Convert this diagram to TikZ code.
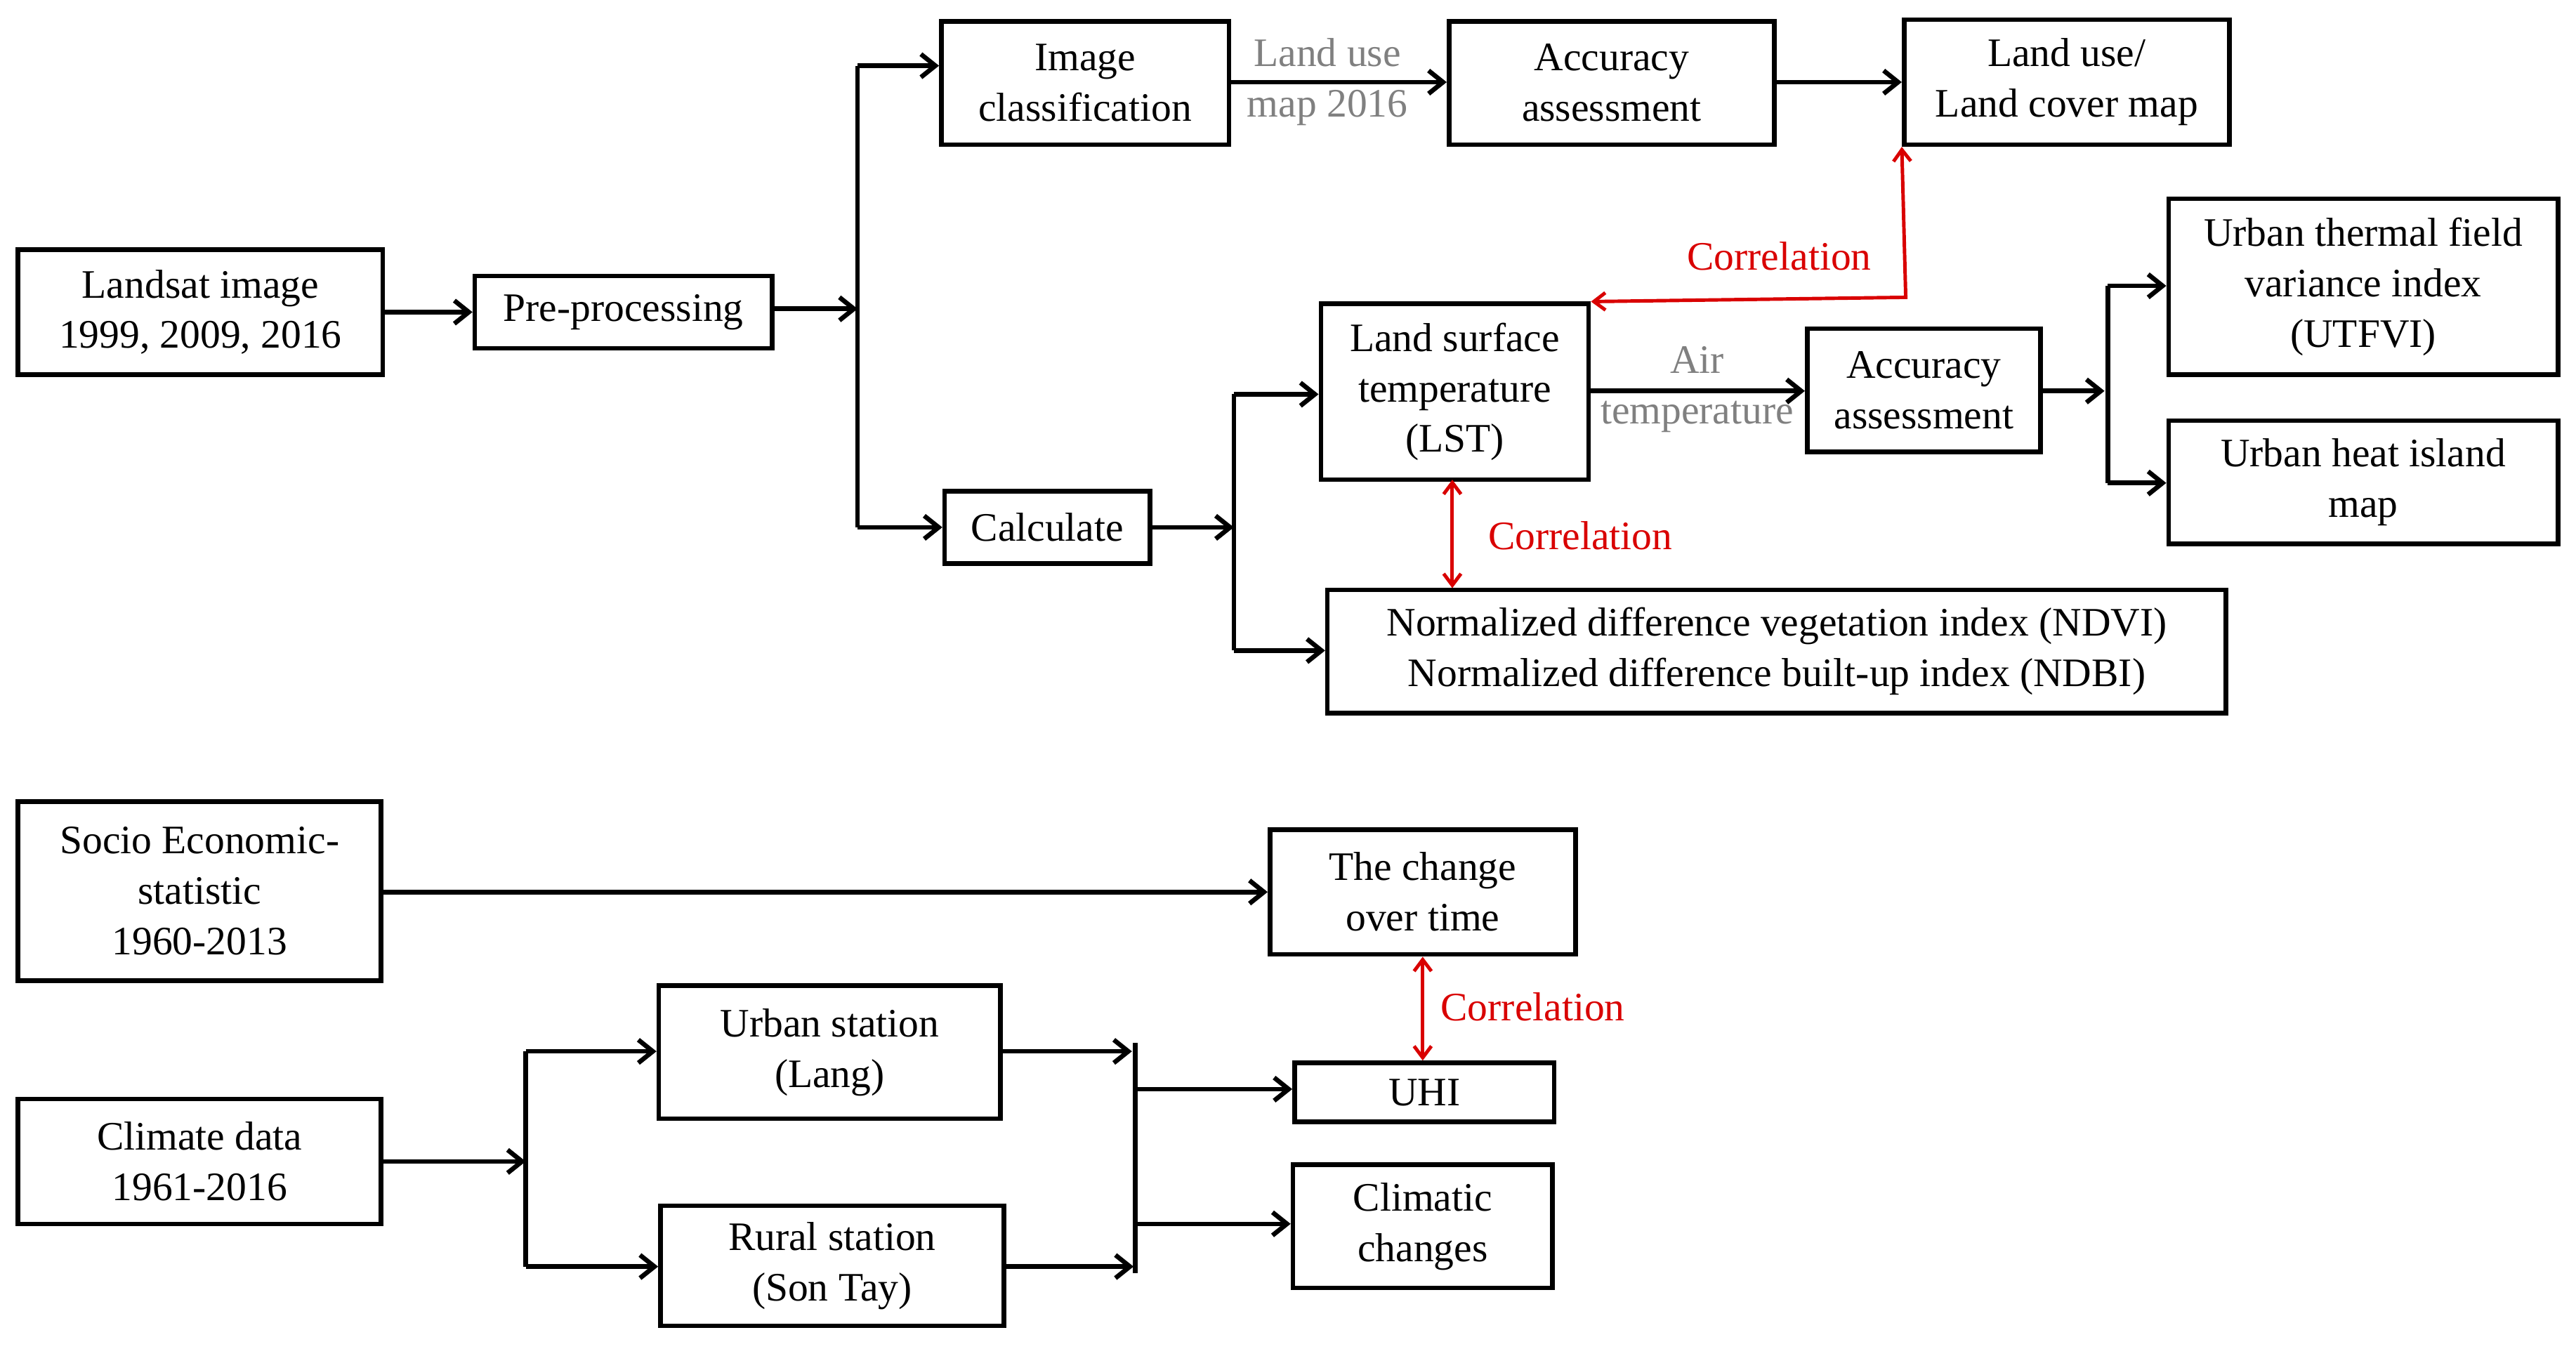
\documentclass[tikz,border=0pt]{standalone}
\usepackage{fontspec}
\setmainfont{Liberation Serif}
\usetikzlibrary{arrows.meta}
\begin{document}
\begin{tikzpicture}[x=0.02cm,y=-0.02cm,
  box/.style={draw,line width=1.6pt,align=center,inner sep=0pt,font=\fontsize{14}{17.5}\selectfont},
  arr/.style={line width=1.6pt,-{Straight Barb[length=5pt,width=8pt]}},
  ln/.style={line width=1.6pt},
  red2/.style={draw=red!85!black,line width=1.2pt,{Straight Barb[length=4pt,width=6pt]}-{Straight Barb[length=4pt,width=6pt]}},
  rlab/.style={text=red!85!black,font=\fontsize{14}{17}\selectfont},
  glab/.style={text=gray,align=center,font=\fontsize{14}{17.5}\selectfont}]
\useasboundingbox (0,0) rectangle (1568,821);
\newcommand\bx[6]{\node[box,minimum width={(#4-#2)*0.02cm},minimum height={(#5-#3)*0.02cm}] (#1) at ({(#2+#4)/2},{(#3+#5)/2}) {#6};}
\bx{landsat}{11}{152}{233}{228}{Landsat image\\1999, 2009, 2016}
\bx{pre}{289}{168}{470}{212}{Pre-processing}
\bx{imcl}{573}{13}{748}{88}{Image\\classification}
\bx{acc1}{882}{13}{1080}{88}{Accuracy\\assessment}
\bx{lulc}{1159}{12}{1357}{88}{Land use/\\Land cover map}
\bx{calc}{575}{299}{700}{343}{Calculate}
\bx{lst}{804}{185}{967}{292}{Land surface\\temperature\\(LST)}
\bx{acc2}{1100}{200}{1242}{275}{Accuracy\\assessment}
\bx{utfvi}{1320}{121}{1557}{228}{Urban thermal field\\variance index\\(UTFVI)}
\bx{uhimap}{1320}{256}{1557}{331}{Urban heat island\\map}
\bx{ndvi}{808}{359}{1355}{434}{Normalized difference vegetation index (NDVI)\\Normalized difference built-up index (NDBI)}
\bx{socio}{11}{488}{232}{597}{Socio Economic-\\statistic\\1960-2013}
\bx{change}{773}{505}{959}{581}{The change\\over time}
\bx{climate}{11}{669}{232}{745}{Climate data\\1961-2016}
\bx{urban}{401}{600}{609}{681}{Urban station\\(Lang)}
\bx{rural}{402}{734}{611}{807}{Rural station\\(Son Tay)}
\bx{uhi}{788}{647}{946}{683}{UHI}
\bx{clim}{787}{709}{945}{784}{Climatic\\changes}
% top
\coordinate (b1t) at (522,40); \coordinate (b1b) at (522,321); \coordinate (b1m) at (522,188);
\draw[arr] (landsat.east) -- (pre.west);
\draw[arr] (pre.east |- b1m) -- (b1m);
\draw[ln] (b1t) -- (b1b);
\draw[arr] (b1t) -- (imcl.west |- b1t);
\draw[arr] (b1b) -- (calc.west |- b1b);
\draw[arr] (imcl.east |- 0,50) -- (acc1.west |- 0,50);
\node[glab] (lab1) at (808,50) {Land use\\map 2016};
\draw[arr] (acc1.east |- 0,50) -- (lulc.west |- 0,50);
\coordinate (b2m) at (751,321); \coordinate (b2t) at (751,240); \coordinate (b2b) at (751,396);
\draw[arr] (calc.east) -- (b2m);
\draw[ln] (b2t) -- (b2b);
\draw[arr] (b2t) -- (lst.west |- b2t);
\draw[arr] (b2b) -- (ndvi.west |- b2b);
\draw[arr] (lst.east |- 0,238) -- (acc2.west |- 0,238);
\node[glab] (lab2) at (1033,237) {Air\\temperature};
\coordinate (b3m) at (1281,238); \coordinate (b3t) at (1283,174); \coordinate (b3b) at (1283,294);
\draw[arr] (acc2.east |- b3m) -- (b3m);
\draw[ln] (b3t) -- (b3b);
\draw[arr] (b3t) -- (utfvi.west |- b3t);
\draw[arr] (b3b) -- (uhimap.west |- b3b);
\coordinate (rc) at (1160,181);
\draw[red2] (lst.north east) -- (rc) -- (lulc.south west);
\node[rlab] (c1) at (1083,156) {Correlation};
\draw[red2] (884,292) -- (884,358);
\node[rlab] (c2) at (962,326) {Correlation};
% bottom
\draw[arr] (socio.east |- 0,543) -- (change.west |- 0,543);
\draw[red2] (change.south) -- (uhi.north -| change.south);
\node[rlab] (c3) at (933,613) {Correlation};
\coordinate (b4m) at (320,707); \coordinate (b4t) at (320,640); \coordinate (b4b) at (320,771);
\draw[arr] (climate.east |- b4m) -- (b4m);
\draw[ln] (b4t) -- (b4b);
\draw[arr] (b4t) -- (urban.west |- b4t);
\draw[arr] (b4b) -- (rural.west |- b4b);
\coordinate (b5t) at (691,635); \coordinate (b5b) at (691,775);
\draw[arr] (urban.east |- 0,640) -- (689,640);
\draw[arr] (rural.east |- 0,771) -- (690,771);
\draw[ln] (b5t) -- (b5b);
\draw[arr] (691,663) -- (uhi.west |- 0,663);
\draw[arr] (691,745) -- (clim.west |- 0,745);
\end{tikzpicture}
\end{document}
